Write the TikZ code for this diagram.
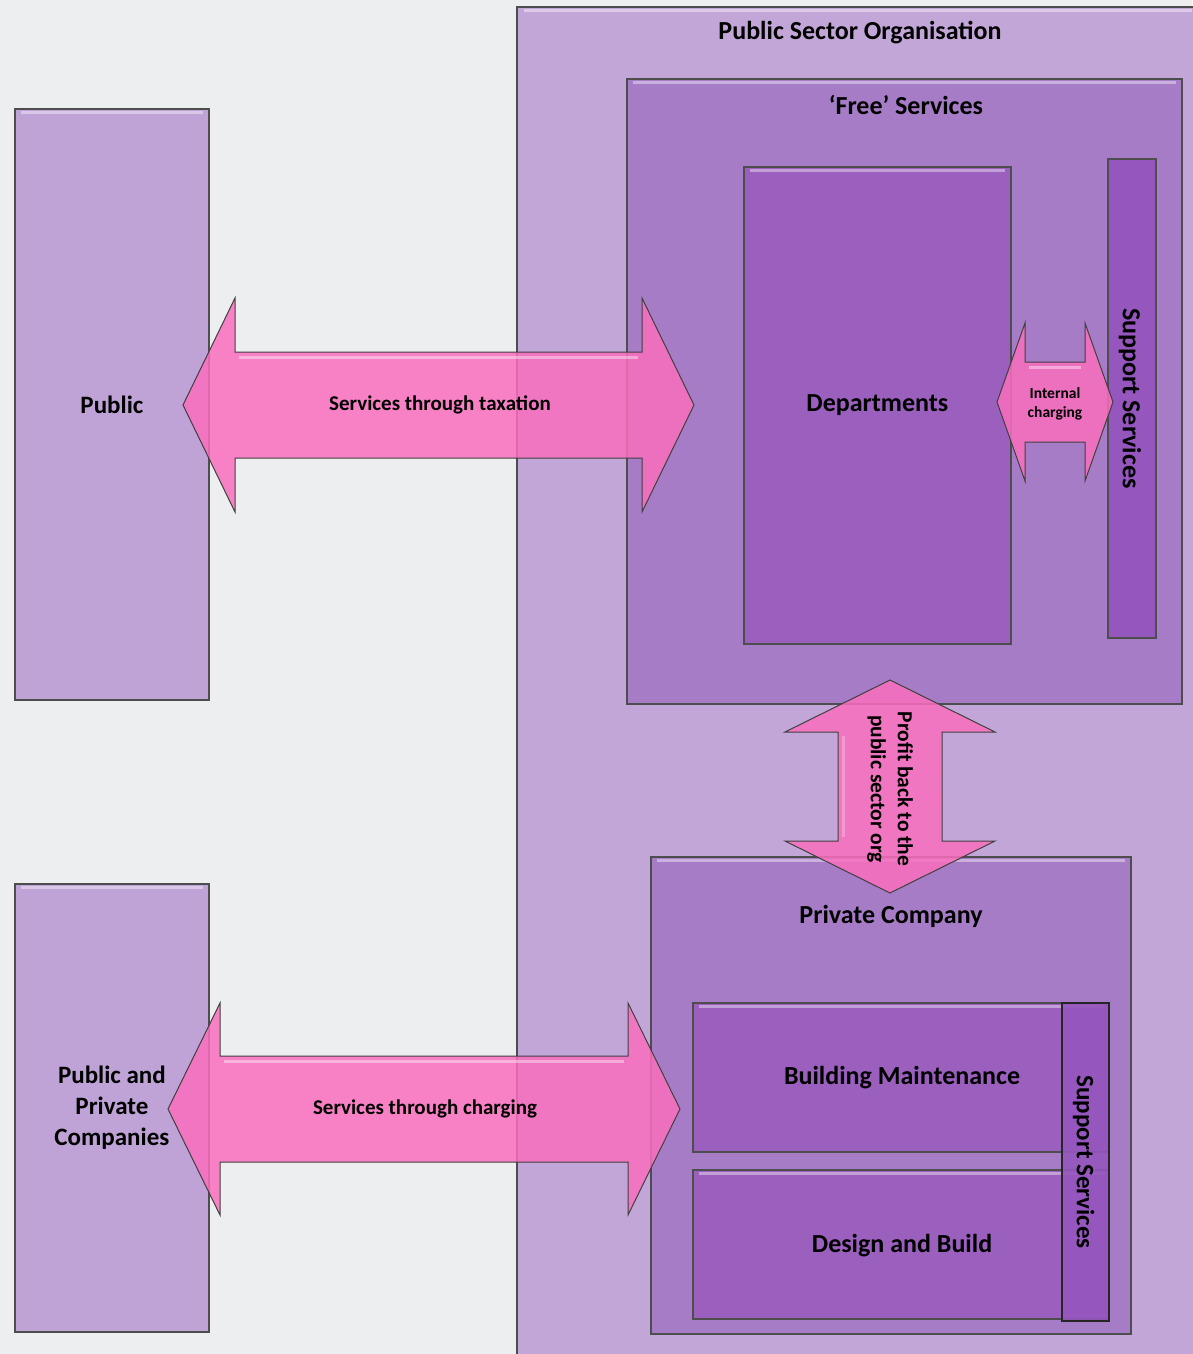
\documentclass[tikz,border=0pt]{standalone}
\usepackage{fontspec}
\setmainfont{Carlito}
\usetikzlibrary{calc}
\definecolor{bgc}{HTML}{EDEEF0}
\definecolor{lightp}{HTML}{BFA3D6}
\definecolor{psoc}{HTML}{C3A6D8}
\definecolor{midp}{HTML}{A77CC7}
\definecolor{darkp}{HTML}{9B5FBE}
\definecolor{ssp}{HTML}{9556BE}
\definecolor{pinkc}{HTML}{FA6EBE}
\definecolor{edgec}{HTML}{4D4D4D}
\tikzset{
  box/.style={draw=edgec, line width=1.8pt, inner sep=0pt, anchor=north west, font=\bfseries\fontsize{25}{31}\selectfont, align=center},
  hl/.style={draw=white, draw opacity=0.4, line width=3pt},
  blockarrow/.style={fill=pinkc, fill opacity=0.85, draw=black!75, line width=1pt, line join=miter},
  alabel/.style={font=\bfseries\fontsize{21}{27}\selectfont, align=center},
  toplabel/.style={font=\bfseries\fontsize{26}{30}\selectfont}
}
% horizontal double block arrow: left tip x, right tip x, centre y, shaft half, head half, head length
\newcommand\blockharrow[6]{%
  \draw[blockarrow] (#1,#3) -- (#1+#6,#3-#5) -- (#1+#6,#3-#4) -- (#2-#6,#3-#4) -- (#2-#6,#3-#5) -- (#2,#3)
   -- (#2-#6,#3+#5) -- (#2-#6,#3+#4) -- (#1+#6,#3+#4) -- (#1+#6,#3+#5) -- cycle;
  \draw[hl] (#1+#6+4,#3-#4+5) -- (#2-#6-4,#3-#4+5);}
% vertical double block arrow: top tip y, bottom tip y, centre x, shaft half, head half, head length
\newcommand\blockvarrow[6]{%
  \draw[blockarrow] (#3,#1) -- (#3+#5,#1+#6) -- (#3+#4,#1+#6) -- (#3+#4,#2-#6) -- (#3+#5,#2-#6) -- (#3,#2)
   -- (#3-#5,#2-#6) -- (#3-#4,#2-#6) -- (#3-#4,#1+#6) -- (#3-#5,#1+#6) -- cycle;
  \draw[hl, draw opacity=0.25] (#3-#4+5,#1+#6+4) -- (#3-#4+5,#2-#6-4);}
\newcommand\hilite[1]{\draw[hl] ([shift={(7pt,-4pt)}]#1.north west) -- ([shift={(-7pt,-4pt)}]#1.north east);}
\begin{document}
\begin{tikzpicture}[x=1pt,y=-1pt]
\useasboundingbox (0,0) rectangle (1192,1354);
\fill[bgc] (0,0) rectangle (1192,1354);

% left boxes
\node[box, fill=lightp, minimum width=194pt, minimum height=591pt] (public) at (14,108) {Public};
\hilite{public}
\node[box, fill=lightp, minimum width=194pt, minimum height=448pt] (ppc) at (14,883) {Public and\\Private\\Companies};
\hilite{ppc}

% public sector organisation (runs off the page)
\node[box, fill=psoc, minimum width=700pt, minimum height=1370pt] (pso) at (516,6) {};
\draw[hl] (524,11) -- (1192,11);
\node[toplabel] (psol) at (860,33) {Public Sector Organisation};

% free services
\node[box, fill=midp, minimum width=555pt, minimum height=625pt] (free) at (626,78) {};
\hilite{free}
\node[toplabel] (freel) at (906,105) {‘Free’ Services};

\node[box, fill=darkp, minimum width=267pt, minimum height=477pt, font=\bfseries\fontsize{26}{30}\selectfont] (dept) at (743,166) {Departments};
\hilite{dept}
\node[box, fill=ssp, minimum width=48pt, minimum height=479pt] (ss1) at (1107,158) {};
\node[rotate=-90, font=\bfseries\fontsize{26}{30}\selectfont] (ss1l) at ([xshift=-2pt]ss1.center) {Support Services};

% private company
\node[box, fill=midp, minimum width=480pt, minimum height=477pt] (pc) at (650,856) {};
\hilite{pc}
\node[toplabel] (pcl) at (891,916) {Private Company};
\node[box, fill=darkp, minimum width=416pt, minimum height=149pt] (bm) at (692,1002) {};
\hilite{bm}
\node[toplabel] (bml) at (902,1078) {Building Maintenance};
\node[box, fill=darkp, minimum width=416pt, minimum height=149pt] (db) at (692,1169) {};
\hilite{db}
\node[toplabel] (dbl) at (902,1246) {Design and Build};
\node[box, fill=ssp, fill opacity=0.9, draw=black!85, line width=2.4pt, minimum width=47pt, minimum height=318pt] (ss2) at (1061,1002) {};
\node[rotate=-90, font=\bfseries\fontsize{25}{30}\selectfont] (ss2l) at ([xshift=-2pt]ss2.center) {Support Services};

% block arrows
\blockharrow{183}{694}{405}{53}{107}{52}
\node[alabel] (a1) at (440,405) {Services through taxation};
\blockharrow{168}{680}{1109}{53}{106}{52}
\node[alabel] (a2) at (425,1109) {Services through charging};
\blockharrow{997}{1113}{402}{40}{79}{28}
\node[font=\bfseries\fontsize{15.5}{19}\selectfont, align=center] (a3) at (1055,404) {Internal\\charging};
\blockvarrow{680}{893}{890}{52}{105}{52}
\node[alabel, rotate=-90, font=\bfseries\fontsize{21.5}{27}\selectfont] (a4) at (890,789) {Profit back to the\\public sector org};
\end{tikzpicture}
\end{document}
